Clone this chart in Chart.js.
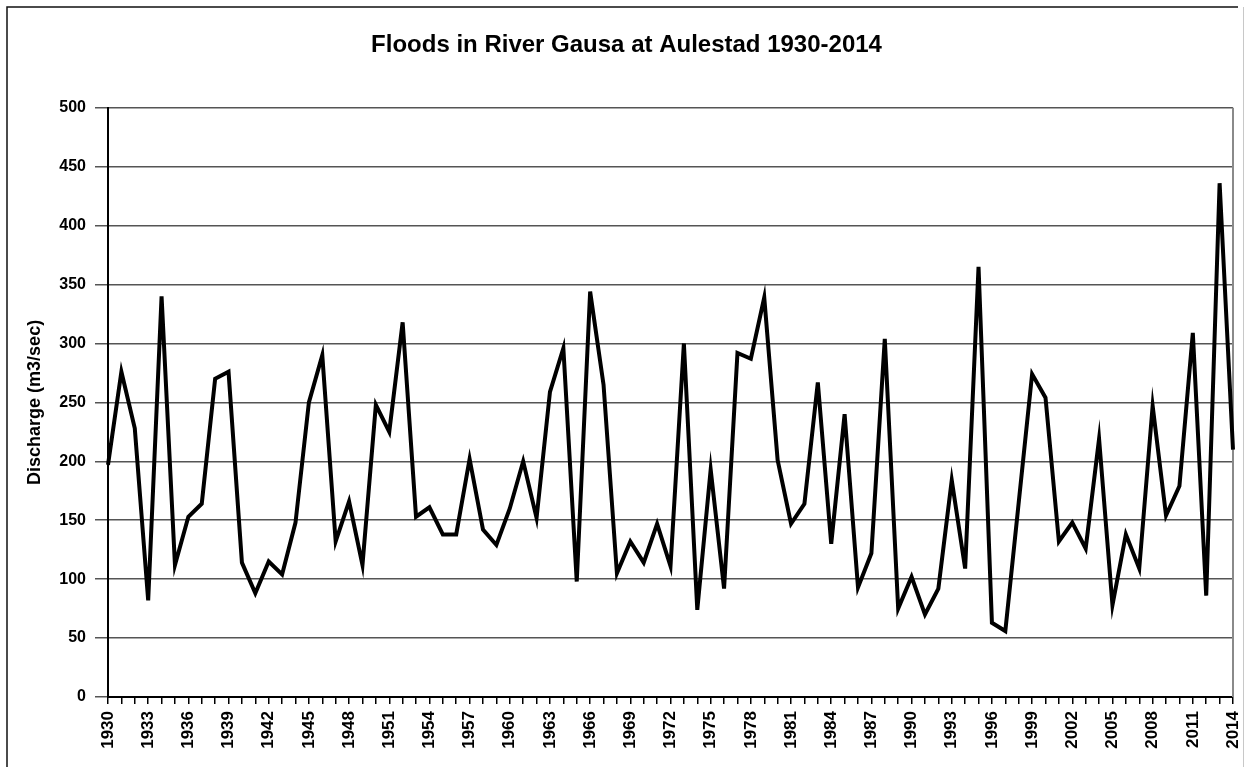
<!DOCTYPE html>
<html>
<head>
<meta charset="utf-8">
<title>Floods in River Gausa at Aulestad 1930-2014</title>
<script src="https://cdn.jsdelivr.net/npm/chart.js@4.4.1/dist/chart.umd.min.js"></script>
<style>
    html, body { margin: 0; padding: 0; background: #fff; }
    #wrap { width: 1245px; height: 767px; }
</style>
</head>
<body>
<div id="wrap"><canvas id="floods" width="1245" height="767"></canvas></div>
<script>
// Years on the category axis
const years = [
    '1930', '1931', '1932', '1933', '1934', '1935', '1936', '1937', '1938', '1939',
    '1940', '1941', '1942', '1943', '1944', '1945', '1946', '1947', '1948', '1949',
    '1950', '1951', '1952', '1953', '1954', '1955', '1956', '1957', '1958', '1959',
    '1960', '1961', '1962', '1963', '1964', '1965', '1966', '1967', '1968', '1969',
    '1970', '1971', '1972', '1973', '1974', '1975', '1976', '1977', '1978', '1979',
    '1980', '1981', '1982', '1983', '1984', '1985', '1986', '1987', '1988', '1989',
    '1990', '1991', '1992', '1993', '1994', '1995', '1996', '1997', '1998', '1999',
    '2000', '2001', '2002', '2003', '2004', '2005', '2006', '2007', '2008', '2009',
    '2010', '2011', '2012', '2013', '2014'
];

// Annual flood peak, m3/sec
const discharge = [
    197, 276, 228, 82, 340, 112, 153, 164, 270, 276,
    114, 88, 115, 104, 148, 250, 290, 132, 166, 112,
    248, 225, 318, 153, 161, 138, 138, 202, 142, 129,
    160, 200, 152, 259, 296, 98, 344, 265, 105, 132,
    114, 147, 111, 300, 74, 193, 92, 292, 287, 339,
    201, 147, 164, 267, 130, 240, 93, 122, 304, 75,
    102, 70, 92, 184, 109, 365, 63, 56, 165, 274,
    254, 132, 148, 126, 219, 78, 138, 109, 247, 154,
    179, 309, 86, 436, 210
];

// Only every third year gets a label
const shownYears = [
    '1930', '1933', '1936', '1939', '1942', '1945', '1948', '1951', '1954', '1957',
    '1960', '1963', '1966', '1969', '1972', '1975', '1978', '1981', '1984', '1987',
    '1990', '1993', '1996', '1999', '2002', '2005', '2008', '2011', '2014'
];

const yTicks = [0, 50, 100, 150, 200, 250, 300, 350, 400, 450, 500];

const FONT = "'Liberation Sans', Arial, sans-serif";

// white page, outer frame and the grey right edge of the plot area
const framePlugin = {
    id: 'frame',
    beforeDraw(chart) {
        const ctx = chart.ctx;
        ctx.save();
        ctx.fillStyle = '#fff';
        ctx.fillRect(0, 0, chart.width, chart.height);
        ctx.strokeStyle = '#111';
        ctx.lineWidth = 1.5;
        ctx.beginPath();
        ctx.moveTo(7, chart.height);
        ctx.lineTo(7, 7);
        ctx.lineTo(1238, 7);
        ctx.stroke();
        ctx.strokeStyle = '#c8c8c8';
        ctx.lineWidth = 1;
        ctx.beginPath();
        ctx.moveTo(1243.5, 7);
        ctx.lineTo(1243.5, chart.height);
        ctx.stroke();
        ctx.restore();
    },
    beforeDatasetsDraw(chart) {
        const { ctx, chartArea: a } = chart;
        ctx.save();
        ctx.strokeStyle = '#8a8a8a';
        ctx.lineWidth = 2;
        ctx.beginPath();
        ctx.moveTo(a.right, a.top);
        ctx.lineTo(a.right, a.bottom);
        ctx.stroke();
        ctx.restore();
    }
};

new Chart(document.getElementById('floods').getContext('2d'), {
    type: 'line',
    data: {
        labels: years,
        datasets: [{
            label: 'Discharge',
            data: discharge,
            borderColor: '#000',
            borderWidth: 4,
            borderJoinStyle: 'miter',
            pointRadius: 0,
            tension: 0,
            fill: false
        }]
    },
    options: {
        responsive: false,
        animation: false,
        devicePixelRatio: 1,
        layout: { padding: { left: 20, right: 12, top: 0, bottom: 0 } },
        plugins: {
            legend: { display: false },
            tooltip: { enabled: false },
            title: {
                display: true,
                text: 'Floods in River Gausa at Aulestad 1930-2014',
                color: '#000',
                font: { family: FONT, size: 24, weight: 'bold' },
                padding: { top: 31, bottom: 48 }
            }
        },
        scales: {
            x: {
                type: 'category',
                offset: false,
                afterFit: (scale) => {
                    scale.height = 70;
                    // let the last rotated label hang past the plot edge
                    scale.paddingRight = 0;
                    scale.paddingLeft = 0;
                },
                grid: {
                    drawOnChartArea: false,
                    drawTicks: true,
                    tickLength: 7,
                    color: '#000',
                    lineWidth: 1.5
                },
                border: { color: '#000', width: 2 },
                ticks: {
                    autoSkip: false,
                    minRotation: 90,
                    maxRotation: 90,
                    padding: 7,
                    color: '#000',
                    font: { family: FONT, size: 17, weight: 'bold' },
                    callback: function (value) {
                        const lbl = this.getLabelForValue(value);
                        return shownYears.includes(lbl) ? lbl : '';
                    }
                }
            },
            y: {
                min: yTicks[0],
                max: yTicks[yTicks.length - 1],
                afterFit: (scale) => { scale.width = 88; },
                afterBuildTicks: (scale) => { scale.ticks = yTicks.map(v => ({ value: v })); },
                grid: {
                    color: '#555',
                    lineWidth: 1.5,
                    tickLength: 13
                },
                border: { color: '#000', width: 2 },
                ticks: {
                    padding: 9,
                    color: '#000',
                    font: { family: FONT, size: 16, weight: 'bold' }
                },
                title: {
                    display: true,
                    text: 'Discharge (m3/sec)',
                    color: '#000',
                    font: { family: FONT, size: 18, weight: 'bold' },
                    padding: { top: 4, bottom: 0 }
                }
            }
        }
    },
    plugins: [framePlugin]
});
</script>
</body>
</html>
